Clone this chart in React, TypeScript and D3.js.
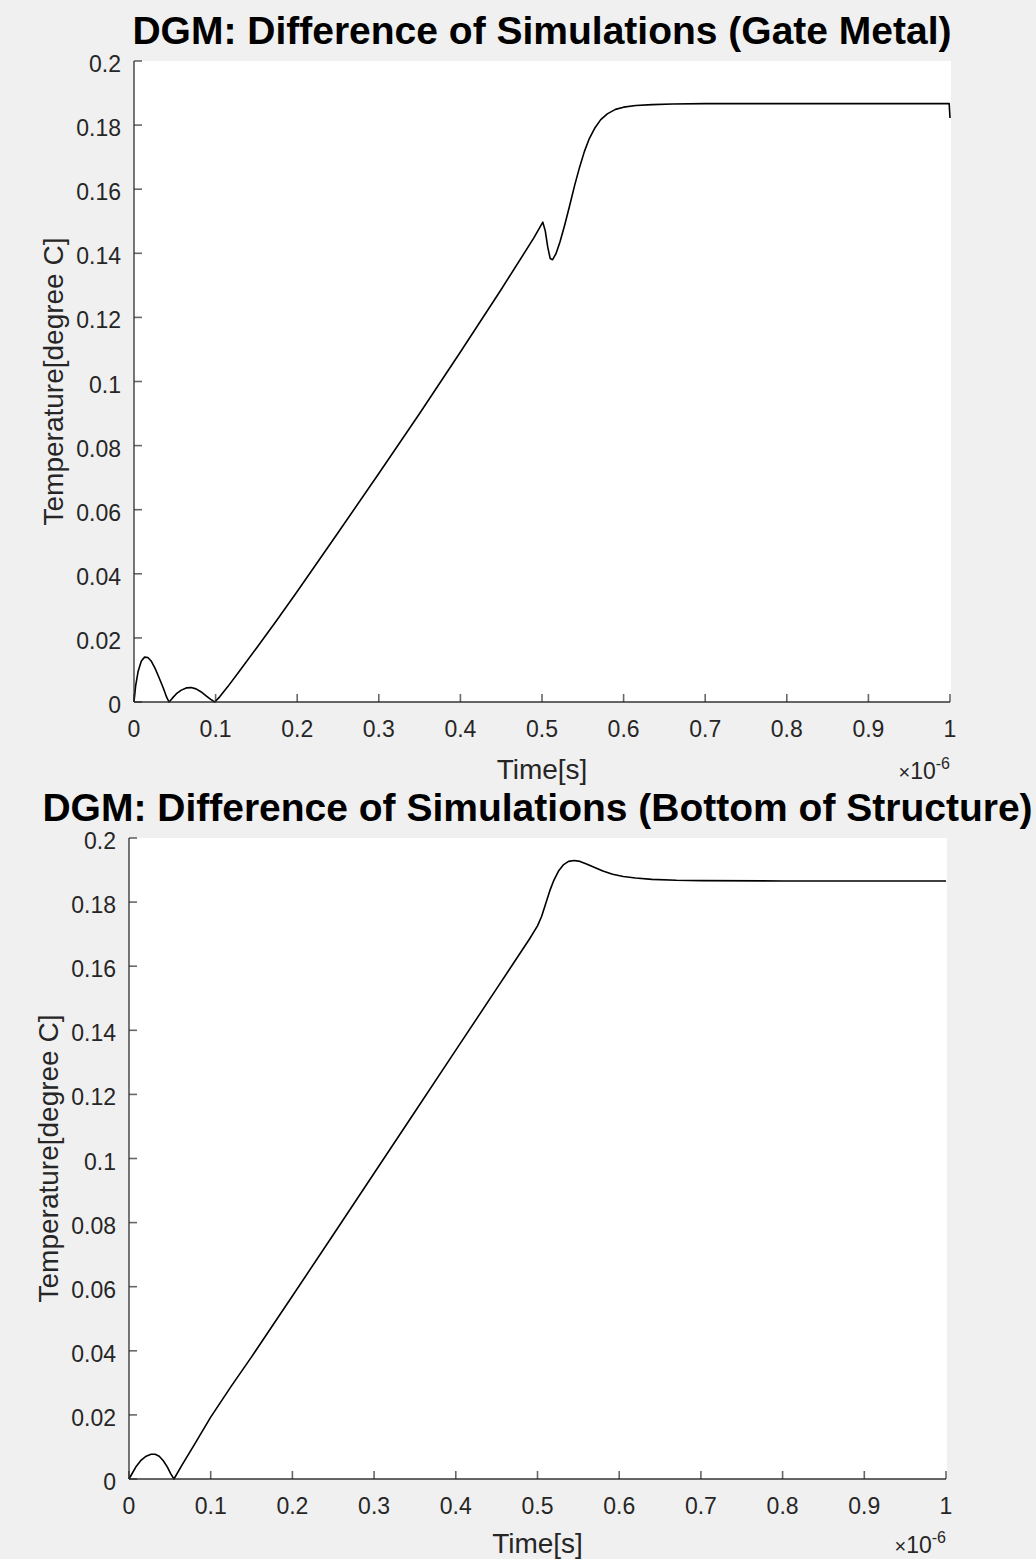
import React from "react";
import * as d3 from "d3";

// Time axis in units of 1e-6 s, temperature difference in degree C
const gateTime = [
  0, 0.002, 0.005, 0.009, 0.013, 0.017, 0.021, 0.026, 0.031, 0.036, 0.04, 0.043,
  0.047, 0.052, 0.058, 0.064, 0.07, 0.076, 0.082, 0.088, 0.094, 0.099, 0.105,
  0.115, 0.13, 0.15, 0.175, 0.2, 0.25, 0.3, 0.35, 0.4, 0.45, 0.49, 0.501, 0.504,
  0.507, 0.51, 0.513, 0.517, 0.522, 0.528, 0.534, 0.54, 0.546, 0.552, 0.558,
  0.565, 0.572, 0.58, 0.59, 0.6, 0.615, 0.635, 0.66, 0.7, 0.8, 0.9, 0.999, 1.0,
];
const gateTemp = [
  0, 0.005, 0.0095, 0.0128, 0.014, 0.0139, 0.0128, 0.0104, 0.0074, 0.0043, 0.0015,
  0, 0.0012, 0.0026, 0.0037, 0.0044, 0.0045, 0.0041, 0.0032, 0.002, 0.0008, 0,
  0.0016, 0.0048, 0.0099, 0.0168, 0.0255, 0.0345, 0.0528, 0.0713, 0.09, 0.1092,
  0.1287, 0.1448, 0.1497, 0.147, 0.142, 0.1384, 0.138, 0.1398, 0.1435, 0.149,
  0.155, 0.1612, 0.1668, 0.1718, 0.1758, 0.1792, 0.1817, 0.1835, 0.1849, 0.1856,
  0.1861, 0.1864, 0.1866, 0.1867, 0.1867, 0.1867, 0.1867, 0.1822,
];

const bottomTime = [
  0, 0.004, 0.009, 0.015, 0.021, 0.027, 0.032, 0.037, 0.042, 0.047, 0.051, 0.055,
  0.065, 0.08, 0.1, 0.125, 0.15, 0.2, 0.25, 0.3, 0.35, 0.4, 0.45, 0.49, 0.5,
  0.505, 0.51, 0.515, 0.52, 0.526, 0.532, 0.538, 0.545, 0.552, 0.56, 0.57, 0.58,
  0.592, 0.605, 0.62, 0.64, 0.67, 0.7, 0.8, 0.9, 1.0,
];
const bottomTemp = [
  0, 0.0018, 0.004, 0.0059, 0.0071, 0.0077, 0.0077, 0.0071, 0.0057, 0.0037,
  0.0017, 0, 0.0044, 0.0107, 0.0193, 0.0289, 0.0381, 0.0571, 0.0762, 0.0954,
  0.1146, 0.1338, 0.153, 0.1684, 0.1726, 0.1755, 0.1795, 0.1835, 0.1868, 0.1898,
  0.1917, 0.1927, 0.193, 0.1927, 0.1919, 0.1908, 0.1897, 0.1887, 0.188, 0.1875,
  0.1871, 0.1868, 0.1867, 0.1866, 0.1866, 0.1866,
];

const xTicks = [0, 0.1, 0.2, 0.3, 0.4, 0.5, 0.6, 0.7, 0.8, 0.9, 1];
const xTickLabels = ["0", "0.1", "0.2", "0.3", "0.4", "0.5", "0.6", "0.7", "0.8", "0.9", "1"];
const yTicks = [0, 0.02, 0.04, 0.06, 0.08, 0.1, 0.12, 0.14, 0.16, 0.18, 0.2];
const yTickLabels = ["0", "0.02", "0.04", "0.06", "0.08", "0.1", "0.12", "0.14", "0.16", "0.18", "0.2"];

const titles = [
  "DGM: Difference of Simulations (Gate Metal)",
  "DGM: Difference of Simulations (Bottom of Structure)",
];
const xLabel = "Time[s]";
const yLabel = "Temperature[degree C]";

const FONT = "'Liberation Sans', Arial, Helvetica, sans-serif";
const AXIS = "#262626";

type PanelProps = {
  title: string;
  times: number[];
  temps: number[];
  left: number;
  right: number;
  top: number;
  bottom: number;
  yLabelX: number;
  xLabelGap: number;
};

function Panel({ title, times, temps, left, right, top, bottom, yLabelX, xLabelGap }: PanelProps) {
  const x = d3.scaleLinear().domain([0, 1]).range([left, right]);
  const y = d3.scaleLinear().domain([0, 0.2]).range([bottom, top]);
  const pts: [number, number][] = times.map((t, i) => [t, temps[i]]);
  const line = d3
    .line<[number, number]>()
    .x((d) => x(d[0]))
    .y((d) => y(d[1]))
    .curve(d3.curveLinear);
  const tickLen = 8;
  const cx = (left + right) / 2;
  const cy = (top + bottom) / 2;

  return (
    <g>
      <rect x={left} y={top} width={right - left + 1} height={bottom - top} fill="#ffffff" />
      <text
        x={cx}
        y={top - 17}
        textAnchor="middle"
        fontFamily={FONT}
        fontWeight="bold"
        fontSize={39}
        fill="#000"
      >
        {title}
      </text>

      <path d={line(pts) ?? ""} fill="none" stroke="#000" strokeWidth={1.6} strokeLinejoin="round" />

      {/* axes: left and bottom only, ticks pointing inward */}
      <line x1={left} y1={top} x2={left} y2={bottom} stroke={AXIS} strokeOpacity={0.7} strokeWidth={1.8} />
      <line x1={left} y1={bottom} x2={right} y2={bottom} stroke={AXIS} strokeOpacity={0.7} strokeWidth={1.8} />
      {yTicks.map((v, i) => (
        <g key={"y" + i}>
          <line
            x1={left}
            x2={left + tickLen}
            y1={y(v)}
            y2={y(v)}
            stroke={AXIS}
            strokeOpacity={0.7}
            strokeWidth={1.6}
          />
          <text
            x={left - 13}
            y={y(v) + 11}
            textAnchor="end"
            fontFamily={FONT}
            fontSize={23}
            fill={AXIS}
          >
            {yTickLabels[i]}
          </text>
        </g>
      ))}
      {xTicks.map((v, i) => (
        <g key={"x" + i}>
          <line
            x1={x(v)}
            x2={x(v)}
            y1={bottom}
            y2={bottom - tickLen}
            stroke={AXIS}
            strokeOpacity={0.7}
            strokeWidth={1.6}
          />
          <text
            x={x(v)}
            y={bottom + 35}
            textAnchor="middle"
            fontFamily={FONT}
            fontSize={23}
            fill={AXIS}
          >
            {xTickLabels[i]}
          </text>
        </g>
      ))}

      <text x={cx} y={bottom + xLabelGap} textAnchor="middle" fontFamily={FONT} fontSize={28} fill={AXIS}>
        {xLabel}
      </text>
      <text x={right} y={bottom + xLabelGap} textAnchor="end" fontFamily={FONT} fontSize={23} fill={AXIS}>
        <tspan fontSize={20}>×</tspan>
        <tspan>10</tspan>
        <tspan fontSize={16} dy={-10}>
          -6
        </tspan>
      </text>

      <text
        transform={`translate(${yLabelX},${cy}) rotate(-90)`}
        textAnchor="middle"
        fontFamily={FONT}
        fontSize={28}
        fill={AXIS}
      >
        {yLabel}
      </text>
    </g>
  );
}

export default function App() {
  return (
    <svg
      width={1036}
      height={1559}
      style={{ position: "absolute", left: 0, top: 0, display: "block" }}
    >
      <rect x={0} y={0} width={1036} height={1559} fill="#f0f0f0" />
      <Panel
        title={titles[0]}
        times={gateTime}
        temps={gateTemp}
        left={134}
        right={950}
        top={61}
        bottom={702}
        yLabelX={63}
        xLabelGap={77}
      />
      <Panel
        title={titles[1]}
        times={bottomTime}
        temps={bottomTemp}
        left={129}
        right={946}
        top={838}
        bottom={1479}
        yLabelX={58}
        xLabelGap={74}
      />
    </svg>
  );
}
